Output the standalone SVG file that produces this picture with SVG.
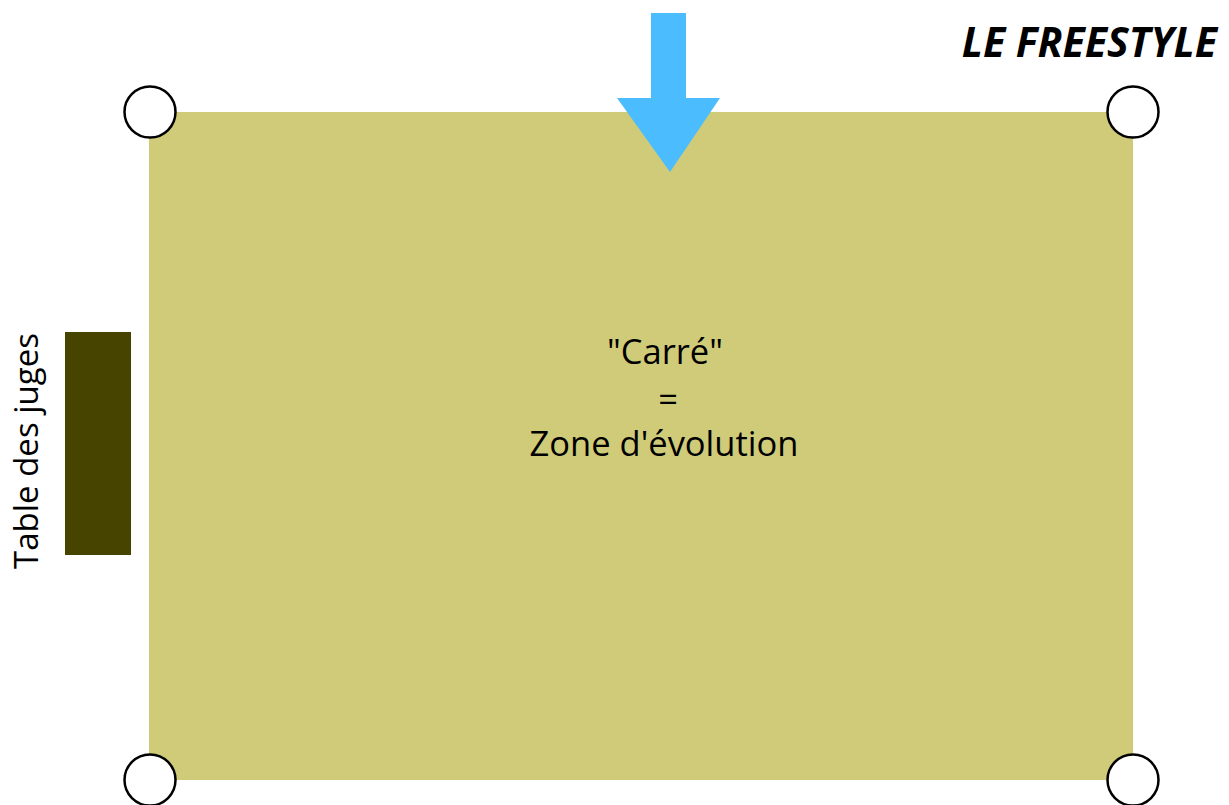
<svg xmlns="http://www.w3.org/2000/svg" width="1229" height="805" viewBox="0 0 1229 805">
<style>
.post{fill:#fff;stroke:#000;stroke-width:2.5}
.lbl{font-family:"Open Sans","Noto Sans",sans-serif;fill:#000}
</style>
<rect width="1229" height="805" fill="#fff"/>
<g id="carre">
<rect x="149" y="112" width="984" height="668" fill="#cfcb78"/>
<text class="lbl" font-size="34.5" text-anchor="middle" x="665" y="364">"Carré"</text>
<text class="lbl" font-size="34.5" text-anchor="middle" x="668" y="412">=</text>
<text class="lbl" font-size="34.5" text-anchor="middle" x="664" y="456">Zone d'évolution</text>
</g>
<g id="posts">
<circle class="post" cx="150" cy="112" r="25.5"/>
<circle class="post" cx="1133" cy="112" r="25.5"/>
<circle class="post" cx="150" cy="780" r="25.5"/>
<circle class="post" cx="1133" cy="780" r="25.5"/>
</g>
<g id="entree">
<polygon points="651,13 686,13 686,98 720,98 670,172 617,98 651,98" fill="#4bbdfe"/>
</g>
<g id="table">
<rect x="65" y="332" width="66" height="223" fill="#474400"/>
<text class="lbl" font-size="33" text-anchor="middle" transform="translate(38,451) rotate(-90)">Table des juges</text>
</g>
<g id="titre">
<text class="lbl" font-size="41" font-weight="bold" font-style="italic" text-anchor="end" x="1217" y="57">LE FREESTYLE</text>
</g>
</svg>
